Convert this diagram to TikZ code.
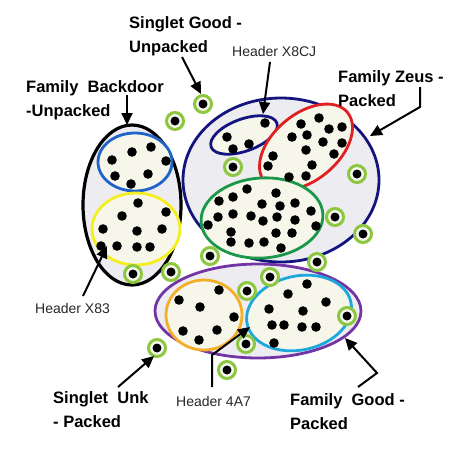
\documentclass[tikz,border=0pt]{standalone}
\usepackage{fontspec}
\setmainfont{Liberation Sans}
\usetikzlibrary{arrows.meta}
\definecolor{ringgreen}{HTML}{8DC63F}
\definecolor{ringfill}{HTML}{F7F9F2}
\definecolor{outerfill}{HTML}{EDEDF1}
\definecolor{innerfill}{HTML}{F6F6EA}
\definecolor{navy}{HTML}{14147F}
\definecolor{bblue}{HTML}{1F64C8}
\definecolor{yel}{HTML}{F5EE1E}
\definecolor{rred}{HTML}{E02020}
\definecolor{dgreen}{HTML}{1C9648}
\definecolor{purp}{HTML}{7335A5}
\definecolor{orng}{HTML}{F5AE2A}
\definecolor{cyn}{HTML}{1CA8DC}
\definecolor{hdrgray}{HTML}{262626}
\begin{document}
\begin{tikzpicture}[x=1pt,y=-1pt,
  outerell/.style={line width=2.8pt,fill=outerfill},
  innerell/.style={line width=2.8pt,fill=innerfill},
  blackdot/.style={fill=black},
  ringc/.style={draw=ringgreen,line width=3pt,fill=ringfill},
  biglabel/.style={font=\fontsize{16.5}{24.5}\selectfont\bfseries,align=left,inner sep=0pt,anchor=north west},
  hdrlabel/.style={font=\fontsize{14}{16}\selectfont,text=hdrgray,inner sep=0pt,anchor=base west},
  pointer/.style={line width=2pt,-{Triangle[length=12pt,width=11pt]}}]
\useasboundingbox (0,0) rectangle (453,448);

% outer ellipses
\draw[outerell,draw=black,line width=3.2pt] (132,205) ellipse [x radius=49pt, y radius=80pt];
\draw[outerell,draw=navy] (281,180) ellipse [x radius=98pt, y radius=82pt];
\draw[outerell,draw=purp] (258,311) ellipse [x radius=103pt, y radius=47pt];

% inner ellipses
\draw[innerell,draw=bblue] (135,162) ellipse [x radius=37pt, y radius=29pt];
\draw[innerell,draw=yel] (136,229) ellipse [x radius=44pt, y radius=36pt];
\draw[innerell,draw=navy,rotate around={20:(244,135)}] (244,135) ellipse [x radius=35pt, y radius=16pt];
\draw[innerell,draw=rred,rotate around={40:(306,147)}] (306,147) ellipse [x radius=54pt, y radius=33pt];
\draw[innerell,draw=dgreen,rotate around={4:(262,218)}] (262,218) ellipse [x radius=61pt, y radius=40pt];
\draw[innerell,draw=orng] (204,315) ellipse [x radius=38pt, y radius=35pt];
\draw[innerell,draw=cyn,rotate around={12:(299,313)}] (299,313) ellipse [x radius=53pt, y radius=37pt];

% singlet rings
\foreach \p in {(203,104),(175,121),(233,167),(357,174),(335,217),(363,234),(210,256),(317,262),(133,274),(171,272),(270,277),(247,291),(347,316),(246,344),(227,370),(157,348)}{
  \draw[ringc] \p circle (8.5pt);
  \fill[blackdot] \p circle (4.5pt);
}

% dots
\foreach \p in {
  % blue
  (112,160),(132,152),(151,147),(166,161),(115,176),(148,174),(131,184),
  % yellow
  (138,203),(122,216),(166,212),(103,229),(137,231),(162,229),(101,246),(117,246),(137,247),(150,247),
  % header x8cj
  (265,123),(227,137),(233,149),(249,144),
  % red
  (301,124),(319,118),(342,127),(329,129),(292,137),(307,135),(323,142),(342,143),(306,150),(334,154),(273,156),(268,166),(312,165),(289,177),(306,176),
  % green
  (247,189),(276,193),(219,201),(233,197),(262,204),(280,206),(295,203),(311,211),(218,217),(233,214),(251,216),(263,221),(277,217),(295,220),(208,225),(231,232),(276,233),(292,233),(316,226),(231,242),(249,243),(264,242),(281,248),
  % orange
  (219,290),(179,300),(200,307),(234,317),(183,331),(217,330),(199,340),
  % cyan
  (307,284),(288,294),(326,302),(269,309),(303,311),(272,325),(284,325),(302,327),(316,327),(274,343)}{
  \fill[blackdot] \p circle (4.8pt);
}

% labels
\node[biglabel] (sgood) at (129,16) {Singlet Good -\\Unpacked};
\node[biglabel] (fback) at (26,80) {Family\ \ Backdoor\\-Unpacked};
\node[biglabel] (fzeus) at (338,70) {Family Zeus -\\Packed};
\node[biglabel] (sunk) at (53,391) {Singlet\ \ Unk\\- Packed};
\node[biglabel] (fgood) at (290,393) {Family\ \ Good -\\Packed};
\node[hdrlabel] (hx8cj) at (232,56) {Header X8CJ};
\node[hdrlabel] (hx83) at (35,313) {Header X83};
\node[hdrlabel] (h4a7) at (176,406) {Header 4A7};

% pointer coordinates
\coordinate (sgA) at (182,57);  \coordinate (sgT) at (201,94);
\coordinate (fbA) at (127,95);  \coordinate (fbT) at (127,125);
\coordinate (hxA) at (270,62);  \coordinate (hxT) at (263,114);
\coordinate (fzA) at (420,87);  \coordinate (fzB) at (420,107); \coordinate (fzT) at (370,136);
\coordinate (h83A) at (83,296); \coordinate (h83T) at (107,246);
\coordinate (h4A) at (212,387); \coordinate (h4B) at (212,355); \coordinate (h4T) at (250,327);
\coordinate (suA) at (118,387); \coordinate (suT) at (154,356);
\coordinate (fgA) at (358,387); \coordinate (fgB) at (377,373); \coordinate (fgT) at (345,338);

\draw[pointer] (sgA) -- (sgT);
\draw[pointer] (fbA) -- (fbT);
\draw[pointer] (hxA) -- (hxT);
\draw[pointer] (fzA) -- (fzB) -- (fzT);
\draw[pointer] (h83A) -- (h83T);
\draw[pointer] (h4A) -- (h4B) -- (h4T);
\draw[pointer] (suA) -- (suT);
\draw[pointer] (fgA) -- (fgB) -- (fgT);
\end{tikzpicture}
\end{document}
